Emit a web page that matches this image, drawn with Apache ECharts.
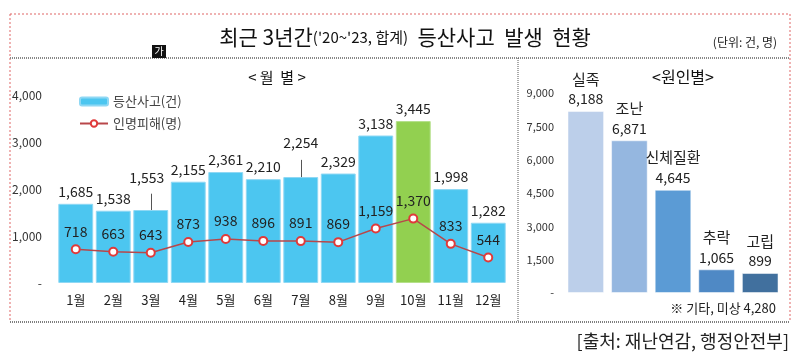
<!DOCTYPE html>
<html><head><meta charset="utf-8">
<script src="https://cdn.jsdelivr.net/npm/echarts@6/dist/echarts.min.js"></script>
<style>html,body{margin:0;padding:0;background:#fff}#c{width:800px;height:358px}</style>
</head><body><div id="c"></div>
<script>
const months = ['1월','2월','3월','4월','5월','6월','7월','8월','9월','10월','11월','12월'];
const accidents = [1685,1538,1553,2155,2361,2210,2254,2329,3138,3445,1998,1282];
const casualties = [718,663,643,873,938,896,891,869,1159,1370,833,544];
const causes = ['실족','조난','신체질환','추락','고립'];
const causeValues = [8188,6871,4645,1065,899];
const causeColors = ['#bccfea','#95b7e0','#5b9bd5','#4f89c5','#41709e'];
const leftTicks = [0,1000,2000,3000,4000];
const rightTicks = [0,1500,3000,4500,6000,7500,9000];

const FONT = '"Noto Sans CJK KR", "Noto Sans", sans-serif';
const fmt = v => v === 0 ? '-' : v.toLocaleString('en-US');

const chart = echarts.init(document.getElementById('c'));
const dotted = (x1,y1,x2,y2,color,w,dash) => ({type:'line',shape:{x1,y1,x2,y2},style:{stroke:color,lineWidth:w,lineDash:dash},silent:true});

chart.setOption({
  animation:false,
  textStyle:{fontFamily:FONT},
  title:[
    {text:'{a|최근 3년간}{b|(\'20~\'23, 합계)}{a|  등산사고  발생  현황}',left:400,top:22,textAlign:'center',
     textStyle:{fontWeight:'normal',rich:{a:{fontSize:21,color:'#111',fontWeight:'normal',fontFamily:FONT},b:{fontSize:15,color:'#111',fontWeight:'normal',fontFamily:FONT}}}},
    {text:'(단위: 건, 명)',left:740,top:31,textAlign:'center',textStyle:{fontSize:12,fontWeight:'normal',color:'#222',fontFamily:FONT}},
    {text:'< 월  별 >',left:272,top:65,textAlign:'center',textStyle:{fontSize:15,fontWeight:'normal',color:'#111',fontFamily:FONT}},
    {text:'<원인별>',left:678,top:64,textAlign:'center',textStyle:{fontSize:16,fontWeight:'normal',color:'#111',fontFamily:FONT}}
  ],
  legend:{orient:'vertical',left:74,top:90,itemWidth:28,itemHeight:8,itemGap:9,
    textStyle:{fontSize:13,color:'#444',fontFamily:FONT},
    data:[{name:'등산사고(건)',itemStyle:{color:'#4cc6f0'}},{name:'인명피해(명)'}]},
  grid:[
    {left:57,right:293,top:95,bottom:75},
    {left:564,right:18,top:93,bottom:65}
  ],
  xAxis:[
    {type:'category',gridIndex:0,data:months,axisLine:{show:false},axisTick:{show:false},
     axisLabel:{fontSize:13,color:'#222',margin:11,fontFamily:FONT}},
    {type:'category',gridIndex:1,data:causes,axisLine:{show:false},axisTick:{show:false},axisLabel:{show:false}}
  ],
  yAxis:[
    {type:'value',gridIndex:0,min:0,max:4000,interval:1000,splitLine:{show:false},axisLine:{show:false},axisTick:{show:false},
     axisLabel:{fontSize:12,color:'#333',margin:15,formatter:fmt,fontFamily:FONT}},
    {type:'value',gridIndex:1,min:0,max:9000,interval:1500,splitLine:{show:false},axisLine:{show:false},axisTick:{show:false},
     axisLabel:{fontSize:11,color:'#333',margin:10,formatter:fmt,fontFamily:FONT}}
  ],
  series:[
    {name:'등산사고(건)',type:'bar',xAxisIndex:0,yAxisIndex:0,barCategoryGap:'7%',
     data:accidents.map((v,i)=>{
       const d={value:v};
       if(i===9) d.itemStyle={color:'#92d050',borderColor:'#b5e08a'};
       if(i===2) d.label={offset:[-4,-20]};
       if(i===6) d.label={offset:[0,-22]};
       return d;}),
     itemStyle:{color:'#4cc6f0',borderColor:'#8fd8f4',borderWidth:1},
     label:{show:true,position:'top',distance:5,fontSize:14,color:'#222',formatter:p=>fmt(p.value),fontFamily:FONT},
     markLine:{silent:true,symbol:['none','none'],label:{show:false},lineStyle:{color:'#555',width:1,type:'solid'},
       data:[[{coord:['3월',1900]},{coord:['3월',1553]}],[{coord:['7월',2620]},{coord:['7월',2254]}]]}
    },
    {name:'인명피해(명)',type:'line',xAxisIndex:0,yAxisIndex:0,data:casualties,
     symbol:'circle',symbolSize:8,
     lineStyle:{color:'#b8474a',width:1.5},
     itemStyle:{color:'#fff',borderColor:'#e03a3a',borderWidth:2},
     label:{show:true,position:'top',distance:6,fontSize:14,color:'#222',formatter:p=>fmt(p.value),fontFamily:FONT},
     z:5},
    {name:'원인',type:'bar',xAxisIndex:1,yAxisIndex:1,barCategoryGap:'16%',
     data:causeValues.map((v,i)=>({value:v,itemStyle:{color:causeColors[i]}})),
     itemStyle:{borderColor:'rgba(255,255,255,0.5)',borderWidth:1},
     label:{show:true,position:'top',distance:3,
       formatter:p=>'{n|'+p.name+'}\n{v|'+fmt(p.value)+'}',
       rich:{n:{fontSize:15,color:'#222',lineHeight:22,fontFamily:FONT},v:{fontSize:14,color:'#222',lineHeight:18,fontFamily:FONT}}}
    }
  ],
  graphic:[
    dotted(10,14,790,14,'#e06666',1,[2,2]),
    dotted(10,14,10,322,'#e06666',1,[2,2]),
    dotted(790,14,790,322,'#e06666',1,[2,2]),
    dotted(10,58,790,58,'#888',2,[1,1]),
    dotted(10,322,790,322,'#555',1.5,[1,1]),
    dotted(518,58,518,322,'#555',1,[1,1]),
    {type:'rect',shape:{x:152,y:45,width:14,height:13},style:{fill:'#111'},silent:true},
    {type:'text',x:159,y:51.5,style:{text:'가',fill:'#fff',font:'10px '+FONT,align:'center',verticalAlign:'middle'},silent:true},
    {type:'text',x:776,y:308,style:{text:'※ 기타, 미상 4,280',fill:'#222',font:'13px '+FONT,align:'right',verticalAlign:'middle'},silent:true},
    {type:'text',x:789,y:341,style:{text:'[출처: 재난연감, 행정안전부]',fill:'#222',font:'18px '+FONT,align:'right',verticalAlign:'middle'},silent:true}
  ]
});
</script></body></html>
